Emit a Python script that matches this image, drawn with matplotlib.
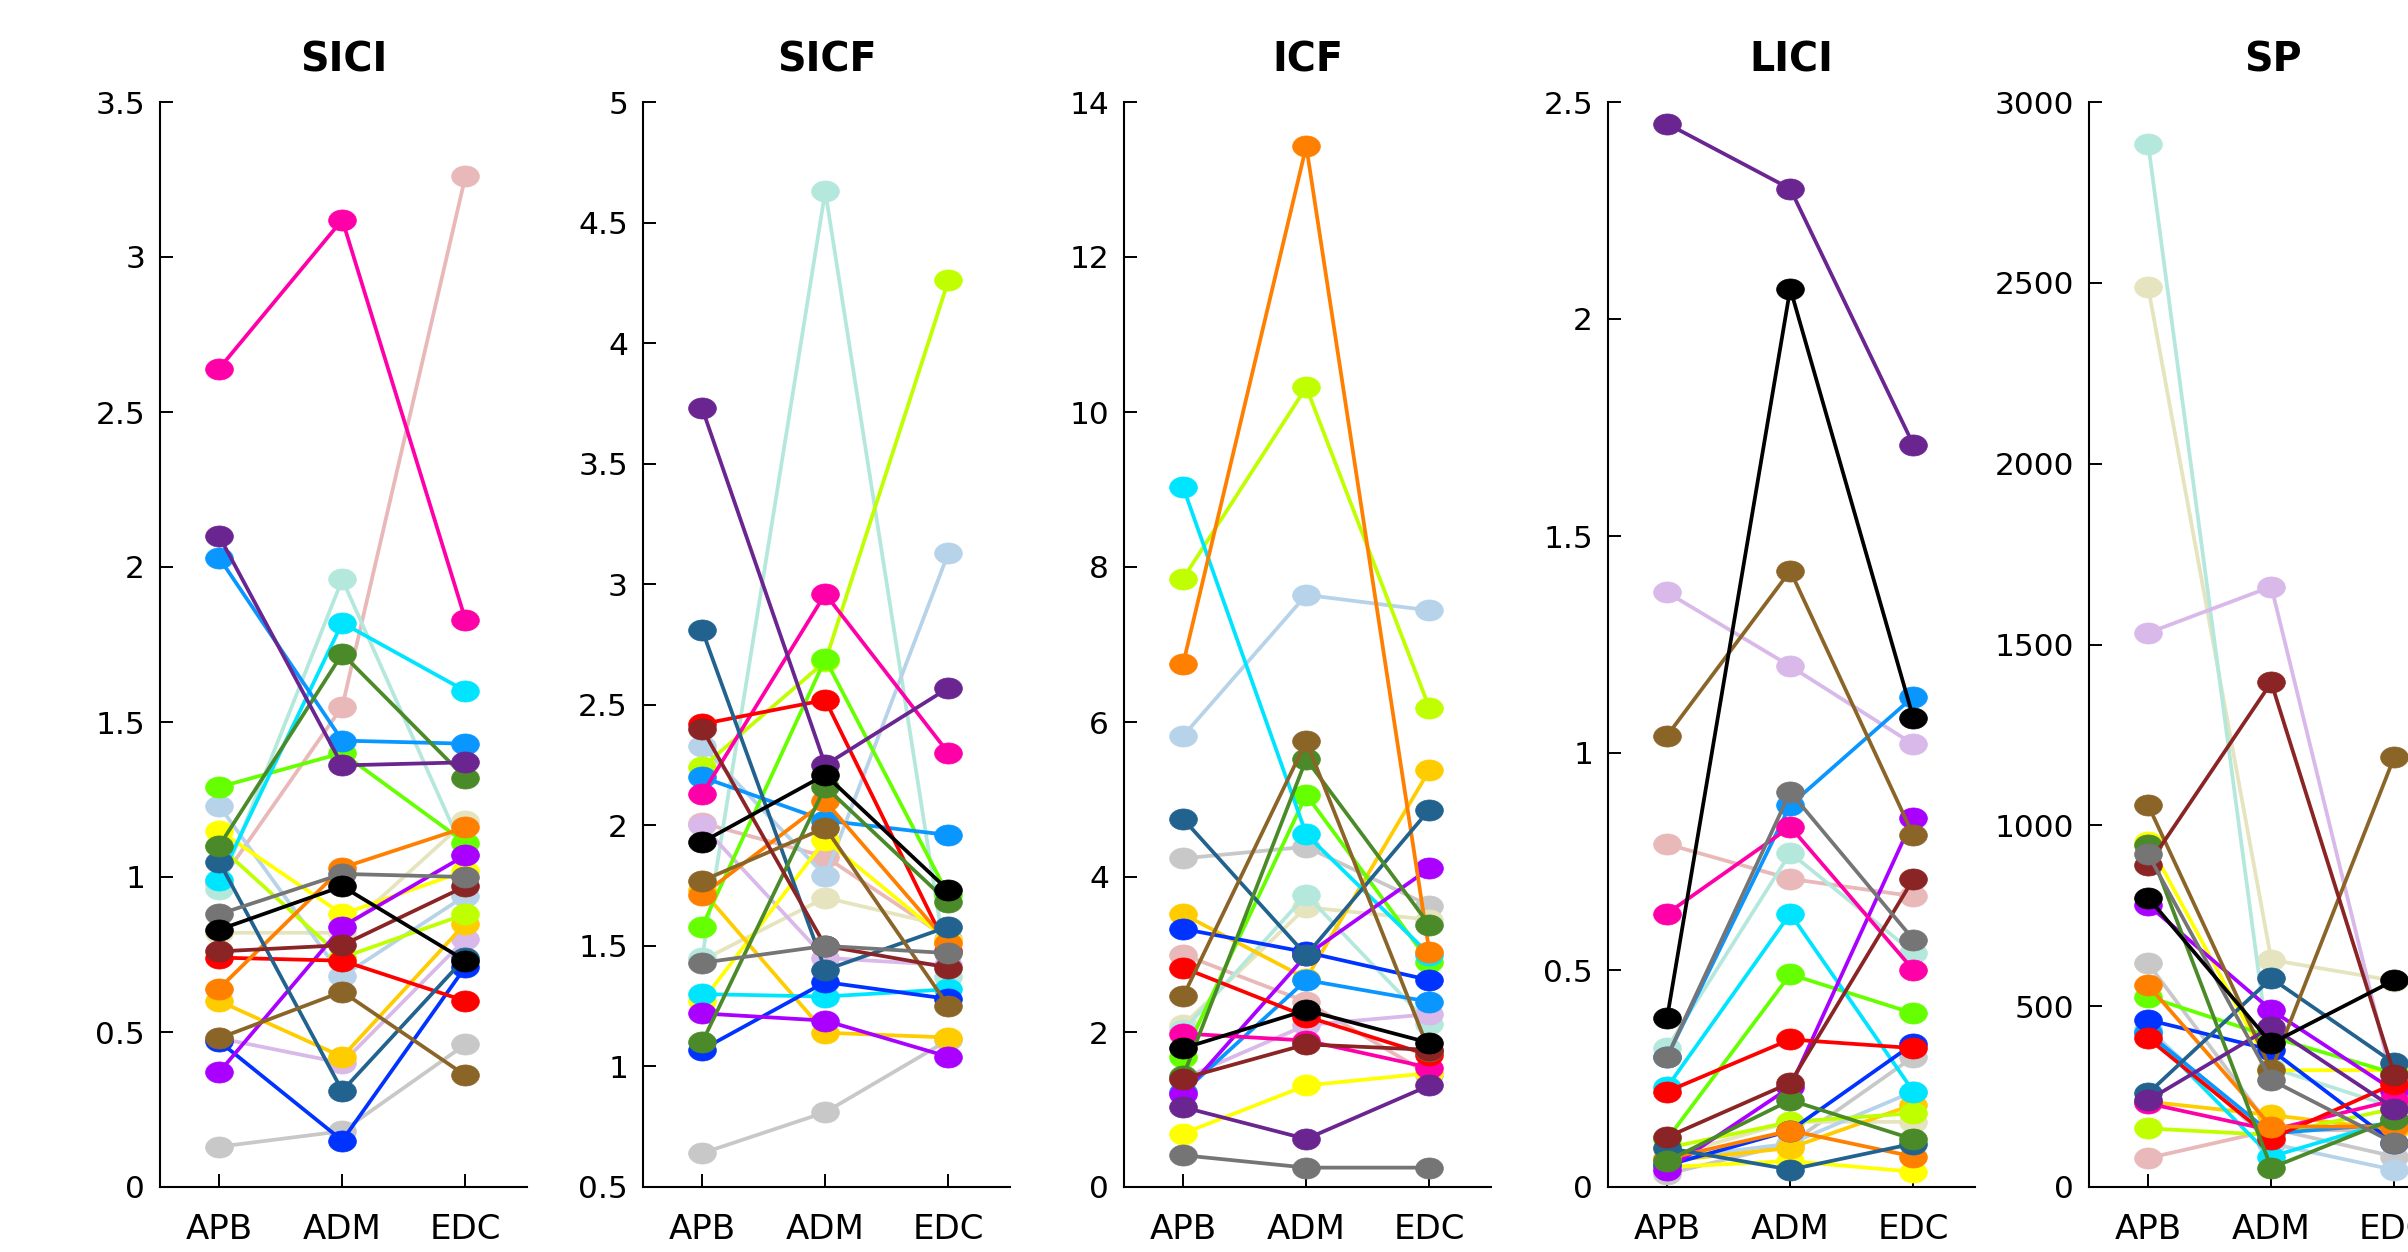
"""Per-subject paired lines across three muscles for five TMS measures."""

import matplotlib

matplotlib.use("Agg")
import matplotlib.pyplot as plt
import numpy as np
from matplotlib.path import Path
from matplotlib.ticker import FormatStrFormatter, MultipleLocator

MUSCLES = ["APB", "ADM", "EDC"]

# one colour per subject; later rows draw on top
SUBJECT_COLORS = [
    "#C8C8C8", "#E9B8B8", "#E6E4BE", "#B5E8DD", "#B6D3EA", "#D9B8EA",
    "#FFFF00", "#FFCC00", "#BFFF00", "#66FF00", "#00E5FF", "#0A96FF",
    "#0033FF", "#AA00FF", "#FF00A8", "#FF0000", "#FF7F00", "#22628E",
    "#4B8A29", "#8B6528", "#8B2424", "#6A2590", "#757575", "#000000",
]

# values per subject: [APB, ADM, EDC]
SICI = [
    [0.13, 0.18, 0.46], [0.98, 1.55, 3.26], [0.82, 0.82, 1.18], [0.96, 1.96, 1.07],
    [1.23, 0.68, 0.94], [0.48, 0.40, 0.80], [1.15, 0.88, 1.02], [0.60, 0.42, 0.85],
    [1.10, 0.74, 0.88], [1.29, 1.40, 1.11], [0.99, 1.82, 1.60], [2.03, 1.44, 1.43],
    [0.47, 0.15, 0.71], [0.37, 0.84, 1.07], [2.64, 3.12, 1.83], [0.74, 0.73, 0.60],
    [0.64, 1.03, 1.16], [1.05, 0.31, 0.74], [1.10, 1.72, 1.32], [0.48, 0.63, 0.36],
    [0.76, 0.78, 0.97], [2.10, 1.36, 1.37], [0.88, 1.01, 1.00], [0.83, 0.97, 0.73],
]
SICF = [
    [0.64, 0.81, 1.11], [2.01, 1.87, 1.53], [1.44, 1.70, 1.58], [1.45, 4.63, 1.37],
    [2.33, 1.79, 3.13], [2.00, 1.45, 1.42], [1.27, 1.94, 1.52], [1.73, 1.14, 1.12],
    [2.24, 2.68, 4.26], [1.58, 2.69, 1.71], [1.30, 1.29, 1.32], [2.20, 2.02, 1.96],
    [1.07, 1.35, 1.28], [1.22, 1.19, 1.04], [2.13, 2.96, 2.30], [2.42, 2.52, 1.48],
    [1.71, 2.10, 1.51], [2.81, 1.40, 1.58], [1.10, 2.16, 1.68], [1.77, 1.99, 1.25],
    [2.40, 1.50, 1.41], [3.73, 2.25, 2.57], [1.43, 1.50, 1.47], [1.93, 2.21, 1.73],
]
ICF = [
    [4.24, 4.39, 3.63], [3.00, 2.39, 1.45], [2.09, 3.61, 3.45], [2.02, 3.77, 2.10],
    [5.82, 7.64, 7.44], [1.40, 2.09, 2.23], [0.69, 1.31, 1.47], [3.52, 2.69, 5.38],
    [7.85, 10.32, 6.18], [1.68, 5.06, 2.90], [9.03, 4.55, 3.00], [1.22, 2.67, 2.39],
    [3.33, 3.03, 2.67], [1.20, 2.99, 4.11], [1.98, 1.89, 1.54], [2.83, 2.20, 1.70],
    [6.75, 13.43, 3.03], [4.75, 2.99, 4.87], [1.43, 5.52, 3.38], [2.46, 5.75, 1.75],
    [1.40, 1.84, 1.77], [1.03, 0.62, 1.31], [0.41, 0.25, 0.25], [1.79, 2.28, 1.86],
]
LICI = [
    [0.03, 0.10, 0.30], [0.79, 0.71, 0.67], [0.07, 0.15, 0.15], [0.32, 0.77, 0.54],
    [0.065, 0.10, 0.22], [1.37, 1.20, 1.02], [0.046, 0.06, 0.035], [0.06, 0.09, 0.19],
    [0.09, 0.15, 0.17], [0.11, 0.49, 0.40], [0.23, 0.63, 0.22], [0.30, 0.88, 1.13],
    [0.05, 0.13, 0.33], [0.04, 0.23, 0.85], [0.63, 0.83, 0.50], [0.22, 0.34, 0.32],
    [0.065, 0.13, 0.07], [0.09, 0.04, 0.10], [0.06, 0.20, 0.11], [1.04, 1.42, 0.81],
    [0.115, 0.24, 0.71], [2.45, 2.30, 1.71], [0.30, 0.91, 0.57], [0.39, 2.07, 1.08],
]
SP = [
    [618, 162, 84], [80, 157, 157], [2488, 628, 570], [2885, 330, 220],
    [438, 120, 47], [1532, 1660, 270], [955, 323, 323], [236, 199, 158],
    [162, 144, 217], [526, 415, 314], [429, 84, 185], [425, 148, 175],
    [462, 379, 121], [780, 489, 266], [231, 157, 240], [411, 134, 286],
    [558, 167, 167], [259, 577, 342], [945, 53, 189], [1056, 323, 1190],
    [890, 1395, 310], [240, 443, 217], [920, 296, 121], [800, 397, 572],
]

PANELS = [
    ("SICI", SICI, (0, 3.5), 0.5),
    ("SICF", SICF, (0.5, 5), 0.5),
    ("ICF", ICF, (0, 14), 2),
    ("LICI", LICI, (0, 2.5), 0.5),
    ("SP", SP, (0, 3000), 500),
]

W, H = 2408, 1252
AX_LEFTS_PX = [160, 643, 1124, 1608, 2089]  # last panel runs off the right edge
AX_W_PX, AX_BOTTOM_PX, AX_H_PX = 367, 65, 1085

# wide filled ellipse, like the source markers
_t = np.linspace(0, 2 * np.pi, 41)
ELLIPSE = Path(np.column_stack([np.cos(_t), 0.76 * np.sin(_t)]), closed=True)


def draw_panel(ax, title, rows, ylim, step):
    x = np.arange(1, len(MUSCLES) + 1)
    for color, row in zip(SUBJECT_COLORS, rows):
        ax.plot(x, row, color=color, lw=2.7, marker=ELLIPSE, ms=20,
                mec=color, mew=0.5)
    ax.set_xlim(0.52, 3.5)
    ax.set_ylim(*ylim)
    ax.set_xticks(x, MUSCLES)
    ax.yaxis.set_major_locator(MultipleLocator(step))
    ax.yaxis.set_major_formatter(FormatStrFormatter("%g"))
    ax.spines[["top", "right"]].set_visible(False)
    ax.spines[["left", "bottom"]].set_linewidth(1.5)
    ax.tick_params(direction="in", length=9.4, width=1.4, color="black")
    ax.tick_params(axis="y", labelsize=22.5, pad=10.8, labelfontfamily="DejaVu Sans")
    ax.tick_params(axis="x", labelsize=24.5, pad=18.5, labelfontfamily="DejaVu Sans")
    ax.set_title(title, fontsize=28.5, fontweight="bold", family="DejaVu Sans", pad=21.6)


fig = plt.figure(figsize=(W / 100, H / 100), dpi=100)
for left, (title, rows, ylim, step) in zip(AX_LEFTS_PX, PANELS):
    ax = fig.add_axes([left / W, AX_BOTTOM_PX / H, AX_W_PX / W, AX_H_PX / H])
    draw_panel(ax, title, rows, ylim, step)

fig.savefig("out.png", dpi=100)
plt.close(fig)
